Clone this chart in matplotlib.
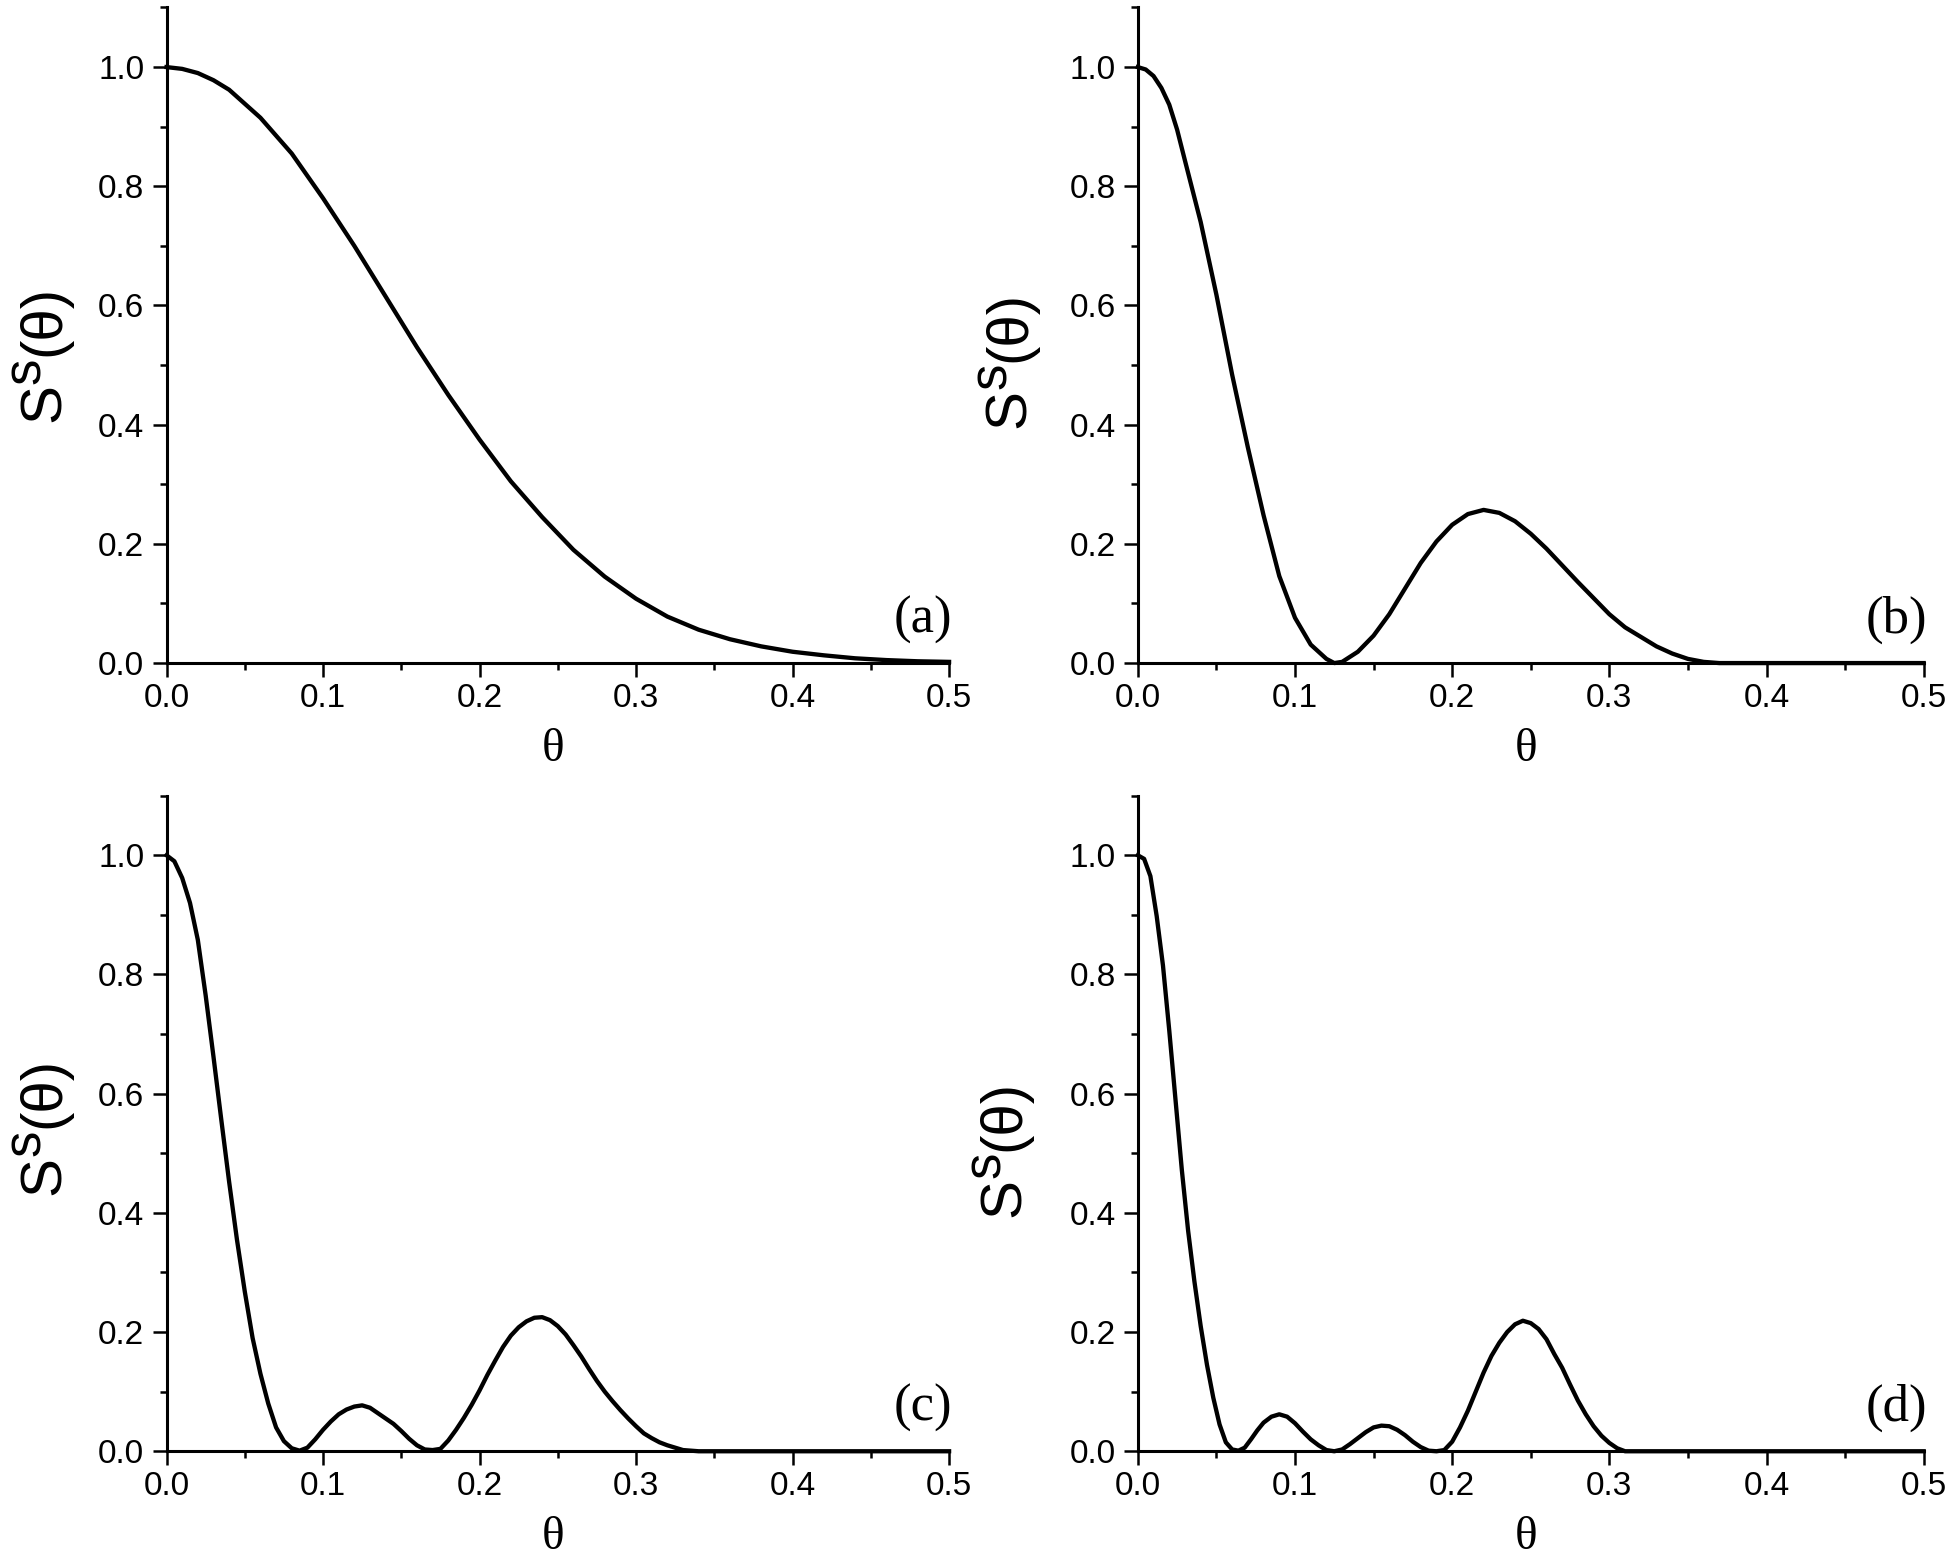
import numpy as np
import matplotlib
matplotlib.use("Agg")
import matplotlib.pyplot as plt
from matplotlib.ticker import MultipleLocator, FormatStrFormatter

# ── Data ────────────────────────────────────────────────────────
THETA_A = [0.00, 0.01, 0.02, 0.03, 0.04, 0.06, 0.08, 0.10, 0.12, 0.14, 0.16,
           0.18, 0.20, 0.22, 0.24, 0.26, 0.28, 0.30, 0.32, 0.34, 0.36, 0.38,
           0.40, 0.42, 0.44, 0.46, 0.48, 0.50]
S_A = [1.000, 0.997, 0.990, 0.978, 0.962, 0.915, 0.855, 0.780, 0.700, 0.615,
       0.530, 0.450, 0.375, 0.305, 0.245, 0.190, 0.145, 0.108, 0.078, 0.056,
       0.040, 0.028, 0.019, 0.013, 0.008, 0.005, 0.003, 0.002]

THETA_B = [0.000, 0.005, 0.010, 0.015, 0.020, 0.025, 0.030, 0.040, 0.050, 0.060,
           0.070, 0.080, 0.090, 0.100, 0.110, 0.120, 0.125, 0.130, 0.140, 0.150,
           0.160, 0.170, 0.180, 0.190, 0.200, 0.210, 0.220, 0.230, 0.240, 0.250,
           0.260, 0.270, 0.280, 0.290, 0.300, 0.310, 0.320, 0.330, 0.340, 0.350,
           0.360, 0.370, 0.500]
S_B = [1.000, 0.996, 0.985, 0.965, 0.937, 0.895, 0.843, 0.740, 0.618, 0.484,
       0.362, 0.248, 0.146, 0.076, 0.031, 0.007, 0.000, 0.002, 0.019, 0.046,
       0.082, 0.125, 0.168, 0.204, 0.232, 0.250, 0.257, 0.252, 0.238, 0.217,
       0.192, 0.164, 0.136, 0.109, 0.082, 0.060, 0.044, 0.028, 0.016, 0.007,
       0.002, 0.000, 0.000]

THETA_C = [0.000, 0.005, 0.010, 0.015, 0.020, 0.025, 0.030, 0.035, 0.040, 0.045,
           0.050, 0.055, 0.060, 0.065, 0.070, 0.075, 0.080, 0.085, 0.090, 0.095,
           0.100, 0.105, 0.110, 0.115, 0.120, 0.125, 0.130, 0.135, 0.140, 0.145,
           0.150, 0.155, 0.160, 0.165, 0.170, 0.175, 0.180, 0.185, 0.190, 0.195,
           0.200, 0.205, 0.210, 0.215, 0.220, 0.225, 0.230, 0.235, 0.240, 0.245,
           0.250, 0.255, 0.260, 0.265, 0.270, 0.275, 0.280, 0.285, 0.290, 0.295,
           0.300, 0.305, 0.310, 0.315, 0.320, 0.325, 0.330, 0.340, 0.500]
S_C = [1.000, 0.990, 0.962, 0.920, 0.858, 0.765, 0.662, 0.556, 0.452, 0.355,
       0.268, 0.190, 0.130, 0.080, 0.040, 0.017, 0.005, 0.001, 0.006, 0.020,
       0.036, 0.050, 0.062, 0.070, 0.075, 0.077, 0.073, 0.064, 0.055, 0.046,
       0.034, 0.021, 0.010, 0.003, 0.002, 0.004, 0.018, 0.036, 0.056, 0.078,
       0.102, 0.128, 0.152, 0.175, 0.194, 0.208, 0.218, 0.224, 0.225, 0.220,
       0.210, 0.196, 0.178, 0.159, 0.138, 0.118, 0.100, 0.084, 0.069, 0.055,
       0.042, 0.030, 0.022, 0.015, 0.010, 0.006, 0.002, 0.000, 0.000]

THETA_D = [0.000, 0.004, 0.008, 0.012, 0.016, 0.020, 0.024, 0.028, 0.032, 0.036,
           0.040, 0.044, 0.048, 0.052, 0.056, 0.060, 0.064, 0.068, 0.072, 0.076,
           0.080, 0.085, 0.090, 0.095, 0.100, 0.105, 0.110, 0.115, 0.120, 0.125,
           0.130, 0.135, 0.140, 0.145, 0.150, 0.155, 0.160, 0.165, 0.170, 0.175,
           0.180, 0.185, 0.190, 0.195, 0.200, 0.205, 0.210, 0.215, 0.220, 0.225,
           0.230, 0.235, 0.240, 0.245, 0.250, 0.255, 0.260, 0.265, 0.270, 0.275,
           0.280, 0.285, 0.290, 0.295, 0.300, 0.305, 0.310, 0.500]
S_D = [1.000, 0.994, 0.965, 0.898, 0.815, 0.706, 0.589, 0.472, 0.370, 0.285,
       0.210, 0.145, 0.090, 0.045, 0.015, 0.003, 0.001, 0.006, 0.020, 0.035,
       0.048, 0.058, 0.062, 0.058, 0.047, 0.033, 0.020, 0.010, 0.002, 0.000,
       0.003, 0.012, 0.022, 0.032, 0.040, 0.043, 0.042, 0.036, 0.027, 0.016,
       0.007, 0.001, 0.000, 0.002, 0.016, 0.040, 0.068, 0.100, 0.132, 0.160,
       0.182, 0.200, 0.213, 0.219, 0.215, 0.205, 0.188, 0.163, 0.140, 0.112,
       0.085, 0.062, 0.042, 0.026, 0.014, 0.005, 0.000, 0.000]

PANELS = ["(a)", "(b)", "(c)", "(d)"]
THETAS = [THETA_A, THETA_B, THETA_C, THETA_D]
SERIES = [S_A, S_B, S_C, S_D]

# axes rectangles in figure fraction (left, bottom, width, height)
RECTS = [
    (0.0854, 0.5755, 0.4013, 0.4197),
    (0.5835, 0.5755, 0.4030, 0.4197),
    (0.0854, 0.0709, 0.4013, 0.4197),
    (0.5835, 0.0709, 0.4030, 0.4197),
]
# y-label placement: (offset of baseline from axis in pt, bottom in axes fraction)
YLAB = [(-77, 0.367), (-81, 0.358), (-77, 0.391), (-85, 0.357)]

SANS = "Liberation Sans"
SERIF = "Liberation Serif"
LAB_FS = 42
SUP_FS = 38

fig = plt.figure(figsize=(19.5, 15.62), dpi=100)

for i in range(4):
    ax = fig.add_axes(RECTS[i])
    ax.plot(THETAS[i], SERIES[i], color="black", linewidth=3.1,
            solid_joinstyle="round", clip_on=False, zorder=5)

    ax.set_xlim(0, 0.5)
    ax.set_ylim(0, 1.1)
    ax.spines["top"].set_visible(False)
    ax.spines["right"].set_visible(False)
    for side in ["left", "bottom"]:
        ax.spines[side].set_linewidth(2.2)

    ax.xaxis.set_major_locator(MultipleLocator(0.1))
    ax.xaxis.set_minor_locator(MultipleLocator(0.05))
    ax.yaxis.set_major_locator(MultipleLocator(0.2))
    ax.yaxis.set_minor_locator(MultipleLocator(0.1))
    ax.xaxis.set_major_formatter(FormatStrFormatter("%.1f"))
    ax.yaxis.set_major_formatter(FormatStrFormatter("%.1f"))
    ax.tick_params(which="major", direction="out", length=10, width=1.8)
    ax.tick_params(which="minor", direction="out", length=5, width=1.8)
    ax.tick_params(axis="x", which="major", pad=4)
    ax.tick_params(axis="y", which="major", pad=6)
    for lab in ax.get_xticklabels() + ax.get_yticklabels():
        lab.set_fontfamily(SANS)
        lab.set_fontsize(24)

    # x label
    ax.text(0.494, -0.1495, "θ", transform=ax.transAxes, ha="center",
            va="baseline", fontsize=34, family=SERIF)

    # panel tag
    ax.text(1.004, 0.047, PANELS[i], transform=ax.transAxes, ha="right",
            va="baseline", fontsize=38, family=SERIF)

    # y label  S^s(θ) with a nearly full size raised "s"
    dx, yb = YLAB[i]
    kw = dict(xycoords="axes fraction", textcoords="offset points",
              rotation=90, rotation_mode="anchor", ha="left",
              va="baseline", family=SANS, annotation_clip=False)
    ax.annotate("S", xy=(0, yb), xytext=(dx, 0), fontsize=LAB_FS, **kw)
    ax.annotate("s", xy=(0, yb), xytext=(dx - 14, 0.667 * LAB_FS),
                fontsize=SUP_FS, **kw)
    ax.annotate("(θ)", xy=(0, yb),
                xytext=(dx, 0.667 * LAB_FS + 0.5 * SUP_FS + 1),
                fontsize=LAB_FS, **kw)

fig.savefig("out.png", dpi=100)
